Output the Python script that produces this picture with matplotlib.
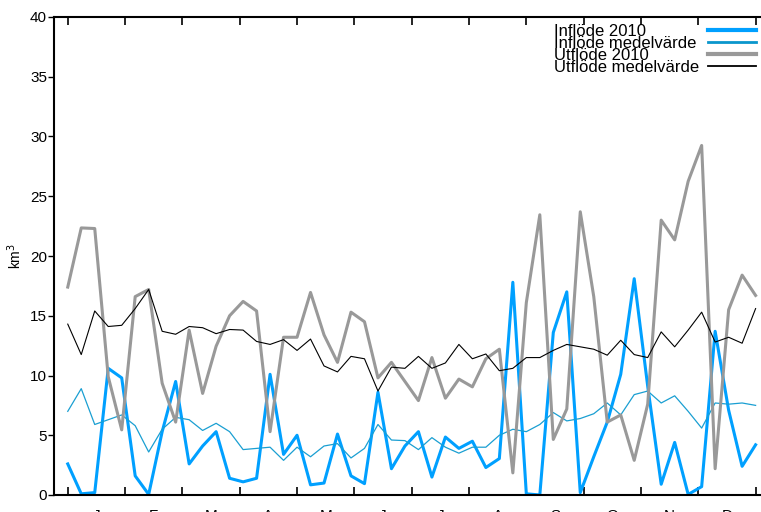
import numpy as np
import matplotlib
matplotlib.use("Agg")
import matplotlib.pyplot as plt

months = ['J', 'F', 'M', 'A', 'M', 'J', 'J', 'A', 'S', 'O', 'N', 'D']

# weekly values, km3
inflow_2010 = [2.6, 0.1, 0.2, 10.6, 9.8, 1.6, 0.05, 5.3, 9.5, 2.6,
               4.1, 5.3, 1.4, 1.1, 1.4, 10.1, 3.4, 5.0, 0.85, 1.0,
               5.1, 1.6, 0.95, 8.6, 2.2, 4.1, 5.3, 1.5, 4.85, 3.9,
               4.5, 2.3, 3.05, 17.8, 0.1, 0.0, 13.6, 17.0, 0.2, 3.2,
               6.1, 10.1, 18.1, 9.1, 0.9, 4.4, 0.05, 0.7, 13.7, 7.1,
               2.4, 4.2]
inflow_mean = [7.0, 8.9, 5.9, 6.3, 6.7, 5.8, 3.6, 5.5, 6.5, 6.3,
               5.4, 6.0, 5.3, 3.8, 3.9, 4.0, 2.9, 4.0, 3.2, 4.1,
               4.3, 3.1, 3.9, 5.9, 4.6, 4.55, 3.8, 4.8, 4.0, 3.5,
               4.0, 4.0, 5.0, 5.5, 5.3, 5.9, 6.9, 6.2, 6.4, 6.8,
               7.7, 6.7, 8.4, 8.7, 7.7, 8.3, 7.0, 5.6, 7.7, 7.6,
               7.7, 7.5]
outflow_2010 = [17.4, 22.35, 22.3, 9.9, 5.45, 16.6, 17.2, 9.35, 6.1, 13.8,
                8.5, 12.45, 15.0, 16.2, 15.4, 5.3, 13.2, 13.2, 16.95, 13.4,
                11.1, 15.3, 14.5, 9.8, 11.1, 9.5, 7.9, 11.5, 8.1, 9.7,
                9.05, 11.4, 12.2, 1.85, 16.1, 23.45, 4.65, 7.2, 23.7, 16.6,
                6.1, 6.7, 2.9, 7.6, 23.0, 21.35, 26.25, 29.25, 2.2, 15.5,
                18.4, 16.7]
outflow_mean = [14.3, 11.75, 15.4, 14.1, 14.2, 15.6, 17.2, 13.7, 13.45, 14.1,
                14.0, 13.5, 13.85, 13.8, 12.85, 12.6, 13.0, 12.1, 13.05, 10.8,
                10.3, 11.6, 11.4, 8.7, 10.7, 10.6, 11.6, 10.6, 11.05, 12.6,
                11.4, 11.8, 10.4, 10.6, 11.5, 11.5, 12.1, 12.6, 12.4, 12.2,
                11.7, 12.95, 11.75, 11.5, 13.65, 12.4, 13.8, 15.3, 12.8, 13.2,
                12.7, 15.6]


def main():
    plt.rcParams['font.family'] = ['Liberation Sans', 'DejaVu Sans']

    weeks = np.arange(len(inflow_2010))
    n = len(weeks) - 1
    month_edges = np.linspace(0, n, 13)
    month_mid = (month_edges[:-1] + month_edges[1:]) / 2

    fig = plt.figure(figsize=(7.61, 5.12), dpi=100)
    ax = fig.add_axes([54 / 761, 17 / 512, 707 / 761, 478 / 512])

    ax.plot(weeks, inflow_2010, color='#00a0ff', lw=2.2, label='Inflöde 2010')
    ax.plot(weeks, inflow_mean, color='#1a9fd2', lw=0.9, label='Inflöde medelvärde')
    ax.plot(weeks, outflow_2010, color='#999999', lw=2.2, label='Utflöde 2010')
    ax.plot(weeks, outflow_mean, color='black', lw=0.8, label='Utflöde medelvärde')

    ax.set_xlim(-1.02, n + 0.4)
    ax.set_ylim(0, 40)
    ax.set_yticks(range(0, 41, 5))
    ax.set_xticks(month_edges)
    ax.set_xticklabels([])
    ax.set_xticks(month_mid, minor=True)
    ax.set_xticklabels(months, minor=True)
    ax.tick_params(axis='x', which='major', direction='in', length=6, width=1.2,
                   top=True)
    ax.tick_params(axis='x', which='minor', length=0, pad=10, labelsize=11)
    ax.tick_params(axis='y', direction='out', length=4, width=1.0, labelsize=11,
                   pad=1)
    for s in ['left', 'bottom', 'top']:
        ax.spines[s].set_linewidth(1.5)
    ax.spines['right'].set_visible(False)

    ax.set_ylabel('km$^3$', fontsize=10, labelpad=4)

    leg = ax.legend(loc='upper left', bbox_to_anchor=(0.707, 0.986),
                    frameon=False, markerfirst=False, fontsize=12,
                    labelspacing=-0.17, handlelength=2.9, handletextpad=0.9,
                    borderpad=0, borderaxespad=0)
    for h, w in zip(leg.get_lines(), [3, 2, 3, 1.3]):
        h.set_linewidth(w)
    leg.get_lines()[1].set_color('#0a96cc')
    # text left, sample line right, same row width for every entry
    for col in leg._legend_handle_box.get_children():
        col.align = 'left'
        for row in col.get_children():
            row.mode = 'expand'
            row.width = 202

    fig.savefig('out.png', dpi=100)


if __name__ == "__main__":
    main()
